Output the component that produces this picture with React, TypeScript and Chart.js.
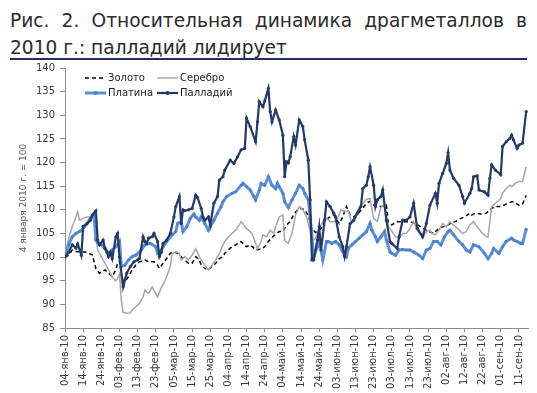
import React, { useEffect, useRef } from 'react';
import { Chart, registerables } from 'chart.js';

Chart.register(...registerables);

// Day offsets are counted from 4 January 2010.
const seriesNames = ['Золото', 'Серебро', 'Платина', 'Палладий'];

const tickLabels = [
  '04-янв-10', '14-янв-10', '24-янв-10', '03-фев-10', '13-фев-10', '23-фев-10',
  '05-мар-10', '15-мар-10', '25-мар-10', '04-апр-10', '14-апр-10', '24-апр-10',
  '04-май-10', '14-май-10', '24-май-10', '03-июн-10', '13-июн-10', '23-июн-10',
  '03-июл-10', '13-июл-10', '23-июл-10', '02-авг-10', '12-авг-10', '22-авг-10',
  '01-сен-10', '11-сен-10',
];

const gold: [number, number][] = [
  [0, 100], [2, 100.4], [4, 101.5], [6, 101.2], [8, 101.1], [11, 101.1], [13, 100.8], [15, 100.5],
  [17, 97.6], [19, 96.6], [22, 97.3], [24, 96.6], [26, 95.9], [28, 97.3], [29, 98.7], [30, 99.2],
  [32, 93.7], [33, 94.8], [35, 95.9], [37, 97.3], [39, 98.3], [41, 99], [44, 99.4], [46, 99],
  [49, 99], [51, 98.3], [52, 97.6], [54, 98.7], [56, 99.7], [58, 100.8], [60, 101.1], [62, 100.8],
  [65, 99.7], [68, 98.7], [70, 98.7], [72, 100.1], [74, 99.4], [75, 98.3], [77, 97.6], [79, 97.3],
  [81, 98], [83, 98.7], [85, 99.7], [87, 100.1], [88, 100.8], [91, 101.9], [94, 102.6], [97, 103.3],
  [98, 102.9], [100, 102.2], [102, 102.6], [104, 101.9], [105, 101.5], [108, 101.7], [110, 102.2],
  [112, 103.3], [115, 104.5], [118, 105.4], [120, 105.4], [122, 106.8], [124, 107.5], [126, 109],
  [128, 110], [130, 110.3], [132, 110], [134, 108.8], [136, 106], [138, 105.2], [141, 106.1],
  [143, 107.8], [146, 108.5], [148, 108.9], [151, 107.1], [153, 108.5], [155, 110.7], [157, 109],
  [159, 108.5], [161, 109.1], [164, 110.3], [166, 111.4], [168, 111.8], [170, 111], [172, 110.7],
  [174, 110.7], [176, 110.8], [177, 111], [178, 107.3], [180, 106.8], [183, 107.5], [186, 107.5],
  [188, 107.5], [190, 107.5], [193, 107.1], [196, 106.4], [199, 105.7], [201, 105.3], [203, 105],
  [206, 106.1], [208, 106.4], [211, 106.8], [213, 107.3], [215, 107.5], [218, 108.2], [220, 108.5],
  [223, 109.3], [224, 108.9], [226, 109.3], [229, 109.1], [232, 109.3], [235, 110.3], [237, 110.7],
  [240, 110.7], [243, 111.2], [246, 111.7], [247, 111.7], [250, 111], [252, 111.2], [254, 113.1],
];

const silver: [number, number][] = [
  [0, 100], [2, 104], [4, 106.4], [6, 108.5], [7, 109.6], [8, 107.8], [10, 108.2], [12, 108.5],
  [14, 108.5], [16, 109.5], [17, 105], [18, 101.5], [20, 100.1], [22, 98.7], [24, 97.3], [26, 95.8],
  [28, 95], [29, 95.5], [30, 96.5], [31, 91], [32, 88.3], [34, 88.1], [36, 88.2], [37, 88.8],
  [39, 89.5], [41, 90.2], [43, 91.6], [44, 93], [46, 92.3], [48, 93.7], [50, 92.2], [51, 91.6],
  [53, 93.5], [55, 95], [56, 95.9], [58, 98], [59, 100.8], [61, 101.1], [63, 100.8], [64, 99.4],
  [66, 100.1], [68, 99.4], [70, 100.4], [72, 101.8], [74, 100.1], [75, 99.4], [77, 98.3], [79, 97.3],
  [81, 98.3], [83, 99.4], [85, 100.8], [87, 102.6], [88, 103.3], [90, 104.3], [92, 105], [94, 105.7],
  [96, 106.8], [97, 107.5], [98, 107.1], [99, 106.4], [101, 105.7], [103, 105], [105, 102.9],
  [106, 101.8], [108, 103.3], [109, 104.7], [111, 104.3], [113, 105.7], [115, 105], [116, 106.4],
  [118, 108.5], [120, 108.9], [121, 103.5], [123, 102.9], [125, 105], [127, 108.9], [129, 110.7],
  [131, 110], [133, 108.5], [135, 105.5], [136, 103.3], [138, 104], [140, 106], [142, 107.5],
  [144, 108.2], [146, 107.5], [148, 107.5], [150, 108], [152, 110], [154, 109.6], [156, 109.8],
  [158, 107.1], [160, 108.5], [162, 110.5], [164, 111.4], [166, 112.2], [168, 112.4], [170, 108.2],
  [172, 107.5], [174, 110.5], [176, 111.2], [178, 106.5], [180, 105.5], [182, 104.3], [184, 104],
  [186, 105], [188, 105], [190, 106.1], [192, 107.5], [194, 105.7], [197, 104], [199, 105.4],
  [201, 105.7], [202, 105], [204, 104.7], [206, 105.7], [208, 107.1], [210, 106.4], [212, 107.5],
  [213, 107.1], [215, 106.4], [217, 105.8], [219, 105], [221, 105.4], [223, 106.8], [225, 107.5],
  [227, 106.4], [230, 105], [232, 104.3], [233, 104.3], [235, 110.7], [236, 111], [238, 111.7],
  [240, 112.4], [241, 113.5], [243, 114.5], [245, 115.2], [246, 114.9], [248, 115.6], [250, 116],
  [252, 116], [254, 119.1],
];

const platinum: [number, number][] = [
  [0, 100], [2, 102.6], [4, 104.3], [6, 105], [8, 105.4], [10, 106.1], [12, 107.1], [14, 108.2],
  [16, 108.9], [17, 103.6], [18, 103], [20, 102.6], [22, 101.9], [24, 100.8], [26, 101.5], [28, 102.2],
  [30, 103.3], [31, 98], [33, 98.3], [35, 99.4], [37, 100.1], [39, 100.4], [42, 101.5], [44, 102.6],
  [47, 102.9], [50, 102.2], [51, 100.8], [53, 101.5], [56, 103.3], [59, 104.7], [61, 105.4],
  [62, 107.1], [64, 107.5], [65, 105.4], [67, 106.4], [69, 108.2], [71, 109.1], [72, 108.5],
  [74, 107.8], [75, 108.5], [77, 107.1], [79, 105.7], [80, 106.4], [82, 107.8], [84, 109.3],
  [86, 110.7], [87, 111.7], [89, 112.8], [92, 113.5], [94, 113.8], [97, 115.2], [98, 115.6],
  [100, 114.9], [102, 114.2], [104, 112.8], [105, 112.1], [107, 114.2], [108, 115.6], [110, 115.2],
  [112, 117], [114, 115.2], [116, 114.5], [117, 115.6], [118, 114.9], [120, 113.5], [121, 111.7],
  [123, 110.5], [125, 112.1], [127, 113.5], [129, 115.2], [131, 114.5], [132, 113.5], [134, 112.1],
  [135, 108.5], [137, 100.1], [139, 102.2], [140, 103.5], [142, 99.4], [144, 103.3], [145, 103.3],
  [147, 102.9], [149, 103.3], [151, 102.6], [153, 101.1], [155, 100.1], [156, 101.8], [158, 102.6],
  [160, 103.3], [162, 104], [164, 104.7], [166, 105.4], [168, 107.1], [169, 105.7], [171, 104.3],
  [172, 103.3], [174, 104.3], [176, 105.4], [177, 103.6], [179, 101.1], [180, 100.8], [182, 100.4],
  [184, 101.5], [186, 101.6], [188, 101.5], [190, 101.5], [192, 101.1], [195, 100.4], [197, 99.7],
  [199, 101.5], [201, 101.8], [203, 103.3], [205, 103.3], [207, 102.6], [209, 104.3], [211, 105.4],
  [212, 105.7], [214, 104.7], [217, 103.3], [219, 102.6], [221, 101.5], [223, 101.1], [225, 102.6],
  [228, 102.2], [231, 100.8], [233, 99.7], [235, 100.8], [236, 101.8], [239, 100.8], [241, 102.2],
  [243, 103.3], [246, 104], [247, 103.6], [249, 103.3], [251, 102.9], [252, 102.9], [254, 105.9],
];

const palladium: [number, number][] = [
  [0, 100], [2, 101], [4, 102.6], [6, 101.9], [7, 102.8], [9, 100.4], [10, 106.5], [12, 107],
  [14, 107.8], [15, 108.9], [17, 109.8], [18, 103.6], [19, 102.6], [21, 103.6], [22, 101.8],
  [23, 101.1], [24, 100.1], [25, 101], [26, 99.7], [28, 104.3], [29, 105], [30, 100], [32, 93.7],
  [33, 95.2], [34, 96.6], [36, 98], [38, 99], [40, 99.4], [41, 99.7], [43, 104.3], [44, 103.3],
  [45, 102.9], [46, 104], [48, 104.3], [49, 105], [51, 103.3], [52, 100.1], [53, 101], [54, 102.9],
  [56, 103.6], [58, 105], [60, 108.5], [61, 110.7], [63, 112.8], [64, 107.1], [65, 110], [66, 109.8],
  [68, 110], [70, 110.3], [72, 113.1], [73, 112.6], [75, 110.3], [76, 108.5], [77, 107.8], [79, 108.5],
  [80, 106.8], [82, 111.4], [84, 112.8], [85, 116.3], [87, 117], [88, 118.4], [91, 120.5], [93, 119.8],
  [95, 121.2], [97, 122.7], [99, 123], [100, 129.4], [102, 127.6], [105, 124.4], [106, 128.6],
  [107, 132.9], [109, 131.8], [110, 133], [112, 135.7], [113, 130.8], [114, 128.6], [116, 131.1],
  [118, 129], [120, 125.8], [121, 117], [122, 120.2], [123, 119.9], [124, 121.2], [126, 125.5],
  [127, 123.7], [129, 129], [131, 127.6], [132, 124.8], [134, 120.5], [135, 112.1], [136, 99.4],
  [137, 99.4], [139, 103.6], [140, 106.4], [141, 101.5], [143, 107.8], [144, 111.7], [146, 110.7],
  [148, 109.3], [149, 108.5], [151, 104.3], [153, 102.2], [154, 100.1], [155, 102.2], [157, 107.1],
  [159, 107.8], [161, 109.3], [163, 110.7], [164, 114.5], [166, 115.2], [167, 117], [168, 119.1],
  [170, 115.2], [171, 110.7], [172, 112.1], [174, 112.8], [175, 114.2], [177, 107.8], [179, 103.3],
  [180, 102.9], [183, 101.8], [184, 104.3], [186, 107.8], [188, 107.8], [190, 108.5], [192, 111.4],
  [194, 106.1], [197, 104.3], [199, 107.1], [201, 111], [204, 113.5], [205, 111.4], [206, 115.6],
  [208, 117.7], [210, 119.8], [211, 122.1], [212, 118.4], [214, 116.7], [217, 115.2], [219, 112.8],
  [220, 111.4], [223, 113.5], [224, 114.5], [225, 117], [227, 117.2], [228, 114.2], [231, 113.8],
  [233, 113.1], [234, 116.7], [235, 119.5], [237, 118.4], [240, 117.4], [241, 123.4], [243, 124.4],
  [245, 125.1], [246, 125.8], [247, 124.8], [249, 123], [250, 123.7], [252, 124.1], [254, 130.8],
];

const FONT = '"DejaVu Sans", Verdana, sans-serif';

const legendPlugin = {
  id: 'innerLegend',
  afterDraw(chart: any) {
    const { ctx, chartArea } = chart;
    ctx.save();
    ctx.font = '10px ' + FONT;
    ctx.textBaseline = 'middle';
    ctx.textAlign = 'left';
    chart.data.datasets.forEach((ds: any, i: number) => {
      const col = i % 2;
      const row = Math.floor(i / 2);
      const x0 = chartArea.left + (col === 0 ? 20 : 92);
      const x1 = x0 + 21;
      const y = chartArea.top + 10 + row * 15;
      ctx.strokeStyle = ds.borderColor;
      ctx.lineWidth = ds.borderWidth;
      ctx.setLineDash(ds.borderDash || []);
      ctx.beginPath();
      ctx.moveTo(x0, y);
      ctx.lineTo(x1, y);
      ctx.stroke();
      ctx.setLineDash([]);
      if (ds.pointRadius > 0) {
        ctx.fillStyle = ds.pointBackgroundColor;
        ctx.beginPath();
        ctx.arc((x0 + x1) / 2, y, ds.pointRadius + 0.5, 0, Math.PI * 2);
        ctx.fill();
      }
      ctx.fillStyle = '#222';
      ctx.fillText(ds.label, x1 + 2, y);
    });
    ctx.restore();
  },
};

export default function App() {
  const ref = useRef<HTMLCanvasElement>(null);

  useEffect(() => {
    if (!ref.current) return;
    const toPts = (arr: [number, number][]) => arr.map(([x, y]) => ({ x, y }));
    const chart = new Chart(ref.current, {
      type: 'line',
      data: {
        datasets: [
          {
            label: seriesNames[0],
            data: toPts(gold),
            borderColor: '#000000',
            borderWidth: 1.5,
            borderDash: [4, 3],
            pointRadius: 0,
            order: 3,
            tension: 0,
          },
          {
            label: seriesNames[1],
            data: toPts(silver),
            borderColor: '#a6a6a6',
            borderWidth: 1.5,
            pointRadius: 0,
            order: 2,
            tension: 0,
          },
          {
            label: seriesNames[2],
            data: toPts(platinum),
            borderColor: '#5b8fd6',
            borderWidth: 3,
            pointRadius: 1.5,
            pointBackgroundColor: '#4a80cb',
            pointBorderWidth: 0,
            order: 1,
            tension: 0,
          },
          {
            label: seriesNames[3],
            data: toPts(palladium),
            borderColor: '#22396a',
            borderWidth: 2.2,
            pointRadius: 1.6,
            pointBackgroundColor: '#22396a',
            pointBorderWidth: 0,
            order: 0,
            tension: 0,
          },
        ] as any,
      },
      options: {
        animation: false,
        responsive: false,
        devicePixelRatio: 1,
        layout: { padding: { top: 68, right: 9, left: 0, bottom: 0 } },
        plugins: {
          legend: { display: false },
          tooltip: { enabled: false },
        },
        scales: {
          x: {
            type: 'linear',
            min: 0,
            max: 255,
            afterFit: (s: any) => { s.height = 65; },
            afterBuildTicks: (s: any) => {
              s.ticks = tickLabels.map((_, i) => ({ value: i * 10 }));
            },
            grid: { drawOnChartArea: false, drawTicks: true, tickLength: 4, color: '#8c8c8c' },
            border: { display: true, color: '#8c8c8c', width: 1 },
            ticks: {
              autoSkip: false,
              minRotation: 90,
              maxRotation: 90,
              padding: 3,
              color: '#3a3a3a',
              font: { family: FONT, size: 10 },
              callback: (v: any) => tickLabels[Math.round(Number(v) / 10)] ?? '',
            },
          },
          y: {
            min: 85,
            max: 140,
            afterFit: (s: any) => { s.width = 65; },
            grid: { drawOnChartArea: false, drawTicks: true, tickLength: 5, color: '#8c8c8c' },
            border: { display: true, color: '#8c8c8c', width: 1 },
            ticks: {
              stepSize: 5,
              padding: 5,
              color: '#3a3a3a',
              font: { family: FONT, size: 10 },
            },
            title: {
              display: true,
              text: '4 января 2010 г. = 100',
              color: '#555',
              font: { family: FONT, size: 9 },
              padding: { top: 18, bottom: 0 },
            },
          },
        },
      },
      plugins: [legendPlugin],
    } as any);
    return () => chart.destroy();
  }, []);

  return (
    <div style={{ position: 'absolute', left: 0, top: 0, width: 537, height: 393, background: '#fff' }}>
      <div
        style={{
          position: 'absolute',
          left: 10,
          top: 7,
          width: 517,
          fontFamily: FONT,
          fontSize: 18.6,
          lineHeight: '27px',
          color: '#2a2a2a',
        }}
      >
        <div style={{ textAlign: 'justify', textAlignLast: 'justify' as any, whiteSpace: 'nowrap' }}>
          Рис. 2. Относительная динамика драгметаллов в
        </div>
        <div>2010 г.: палладий лидирует</div>
      </div>
      <div
        style={{
          position: 'absolute',
          left: 10,
          top: 58,
          width: 517,
          height: 2,
          background: '#262d5e',
        }}
      />
      <canvas
        ref={ref}
        width={537}
        height={393}
        style={{ position: 'absolute', left: 0, top: 0, width: 537, height: 393 }}
      />
    </div>
  );
}
